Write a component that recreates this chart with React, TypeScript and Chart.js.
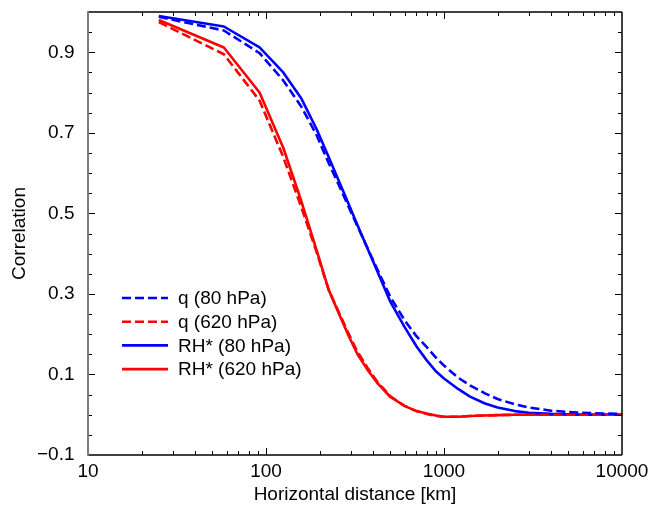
import React, { useEffect, useRef } from 'react';
import { Chart, registerables } from 'chart.js';

Chart.register(...registerables);

// Horizontal distance [km]
const distances = [25, 58, 92, 125, 158, 192, 225, 258, 292, 325, 375, 425, 500, 600, 700, 800, 900, 1000, 1200, 1400, 1700, 2000, 2500, 3000, 4000, 5000, 6000, 8000, 10000];

// q (80 hPa) – blue dashed
const q80 = [0.988, 0.954, 0.898, 0.83, 0.765, 0.695, 0.625, 0.568, 0.515, 0.47, 0.41, 0.358, 0.292, 0.235, 0.195, 0.168, 0.142, 0.122, 0.092, 0.073, 0.053, 0.039, 0.026, 0.018, 0.01, 0.007, 0.005, 0.003, 0.002];
// q (620 hPa) – red dashed
const q620 = [0.975, 0.895, 0.78, 0.64, 0.515, 0.405, 0.31, 0.252, 0.2, 0.158, 0.114, 0.08, 0.046, 0.022, 0.009, 0.002, -0.003, -0.005, -0.005, -0.003, -0.002, -0.001, 0, 0, 0, 0, 0, 0, 0];
// RH* (80 hPa) – blue solid
const rh80 = [0.99, 0.964, 0.912, 0.85, 0.785, 0.71, 0.64, 0.578, 0.522, 0.473, 0.409, 0.353, 0.28, 0.218, 0.17, 0.135, 0.108, 0.09, 0.064, 0.045, 0.028, 0.018, 0.009, 0.005, 0.002, 0.001, 0, 0, 0];
// RH* (620 hPa) – red solid
const rh620 = [0.98, 0.912, 0.8, 0.663, 0.53, 0.41, 0.31, 0.249, 0.195, 0.152, 0.109, 0.077, 0.044, 0.022, 0.009, 0.003, -0.002, -0.005, -0.005, -0.003, -0.002, -0.001, 0, 0, 0, 0, 0, 0, 0];

const seriesLabels = ['q (80 hPa)', 'q (620 hPa)', 'RH* (80 hPa)', 'RH* (620 hPa)'];
const xTickLabels = [10, 100, 1000, 10000];
const yTickLabels = [-0.1, 0.1, 0.3, 0.5, 0.7, 0.9];

const FONT = "'Liberation Sans', Arial, Helvetica, sans-serif";
const FS = 19;

const toPoints = (vals: number[]) => distances.map((d, i) => ({ x: d, y: vals[i] }));

const framePlugin = {
  id: 'frameTicks',
  afterDraw(chart: any) {
    const { ctx, chartArea, scales } = chart;
    const { left, right, top, bottom } = chartArea;
    const xs = scales.x;
    const ys = scales.y;
    ctx.save();
    ctx.strokeStyle = '#000';
    ctx.lineWidth = 1;
    const seg = (x1: number, y1: number, x2: number, y2: number) => {
      ctx.beginPath();
      ctx.moveTo(x1, y1);
      ctx.lineTo(x2, y2);
      ctx.stroke();
    };
    // y ticks (every 0.05, major at labelled ones)
    ys.ticks.forEach((t: any) => {
      const py = Math.round(ys.getPixelForValue(t.value)) + 0.5;
      if (py <= top + 1 || py >= bottom - 1) return;
      const major = yTickLabels.some((v) => Math.abs(v - t.value) < 1e-6);
      const len = major ? 7 : 4;
      seg(left, py, left + len, py);
      seg(right, py, right - len, py);
    });
    // x ticks (log minor)
    for (let e = 1; e <= 4; e++) {
      for (let m = 1; m <= 9; m++) {
        const v = m * Math.pow(10, e);
        if (v > 10000) break;
        const px = Math.round(xs.getPixelForValue(v)) + 0.5;
        if (px <= left + 1 || px >= right - 1) continue;
        const len = m === 1 ? 7 : 4;
        seg(px, bottom, px, bottom - len);
        seg(px, top, px, top + len);
      }
    }
    // frame
    ctx.lineWidth = 1.5;
    ctx.strokeStyle = '#000';
    seg(left, top, right, top);
    seg(right, top, right, bottom);
    seg(left, bottom, right, bottom);
    ctx.strokeStyle = '#7a7a7a';
    ctx.lineWidth = 2;
    seg(left, top - 0.75, left, bottom + 0.75);

    // legend
    const lx0 = left + 34;
    const lx1 = left + 80;
    const tx = left + 90;
    const y0 = top + 286;
    const dy = 23.7;
    ctx.font = `${FS}px ${FONT}`;
    ctx.textBaseline = 'middle';
    ctx.textAlign = 'left';
    chart.data.datasets.forEach((ds: any, i: number) => {
      const yy = y0 + i * dy;
      ctx.strokeStyle = ds.borderColor;
      ctx.lineWidth = ds.borderWidth;
      ctx.setLineDash(ds.borderDash || []);
      ctx.beginPath();
      ctx.moveTo(lx0, yy);
      ctx.lineTo(lx1, yy);
      ctx.stroke();
      ctx.setLineDash([]);
      ctx.fillStyle = '#000';
      ctx.fillText(ds.label, tx, yy + 1);
    });
    ctx.restore();
  },
};

export default function App() {
  const canvasRef = useRef<HTMLCanvasElement | null>(null);

  useEffect(() => {
    document.body.style.margin = '0';
    const canvas = canvasRef.current;
    if (!canvas) return;
    const dash = [9, 4];
    const chart = new Chart(canvas, {
      type: 'line',
      data: {
        datasets: [
          { label: seriesLabels[0], data: toPoints(q80), borderColor: '#0000ff', borderDash: dash, borderWidth: 2.6 },
          { label: seriesLabels[1], data: toPoints(q620), borderColor: '#ff0000', borderDash: dash, borderWidth: 2.6 },
          { label: seriesLabels[2], data: toPoints(rh80), borderColor: '#0000ff', borderWidth: 2.6 },
          { label: seriesLabels[3], data: toPoints(rh620), borderColor: '#ff0000', borderWidth: 2.6 },
        ],
      },
      options: {
        animation: false,
        responsive: false,
        maintainAspectRatio: false,
        layout: { padding: { left: 0, top: 12, right: 28, bottom: 0 } },
        elements: {
          point: { radius: 0, hoverRadius: 0 },
          line: { tension: 0, borderCapStyle: 'butt', borderJoinStyle: 'round' },
        },
        plugins: {
          legend: { display: false },
          tooltip: { enabled: false },
        },
        scales: {
          x: {
            type: 'logarithmic',
            min: 10,
            max: 10000,
            grid: { display: false, drawTicks: false },
            border: { display: false },
            afterFit: (s: any) => {
              s.height = 51;
              s.paddingLeft = 0;
              s.paddingRight = 0;
              s.paddingTop = 0;
              s.paddingBottom = 0;
            },
            ticks: {
              autoSkip: false,
              maxRotation: 0,
              padding: 5,
              color: '#000',
              font: { family: FONT, size: FS },
              callback: (v: any) => {
                const n = Number(v);
                return xTickLabels.some((t) => Math.abs(t - n) < 1e-6) ? String(n) : '';
              },
            },
            title: {
              display: true,
              text: 'Horizontal distance [km]',
              color: '#000',
              font: { family: FONT, size: FS },
              padding: { top: 0, bottom: 0 },
            },
          },
          y: {
            type: 'linear',
            min: -0.1,
            max: 1.0,
            grid: { display: false, drawTicks: false },
            border: { display: false },
            afterFit: (s: any) => {
              s.width = 88;
              s.paddingLeft = 0;
              s.paddingRight = 0;
              s.paddingTop = 0;
              s.paddingBottom = 0;
            },
            ticks: {
              stepSize: 0.05,
              autoSkip: false,
              padding: 13.5,
              color: '#000',
              font: { family: FONT, size: FS },
              callback: (v: any) => {
                const n = Number(v);
                const hit = yTickLabels.find((t) => Math.abs(t - n) < 1e-6);
                if (hit === undefined) return '';
                return hit.toFixed(1).replace('-', '\u2212');
              },
            },
            title: {
              display: true,
              text: 'Correlation',
              color: '#000',
              font: { family: FONT, size: FS },
              padding: { top: 8.6, bottom: 0 },
            },
          },
        },
      },
      plugins: [framePlugin],
    });
    return () => chart.destroy();
  }, []);

  return (
    <div style={{ width: 650, height: 506, background: '#fff' }}>
      <canvas ref={canvasRef} width={650} height={506} style={{ display: 'block' }} />
    </div>
  );
}
